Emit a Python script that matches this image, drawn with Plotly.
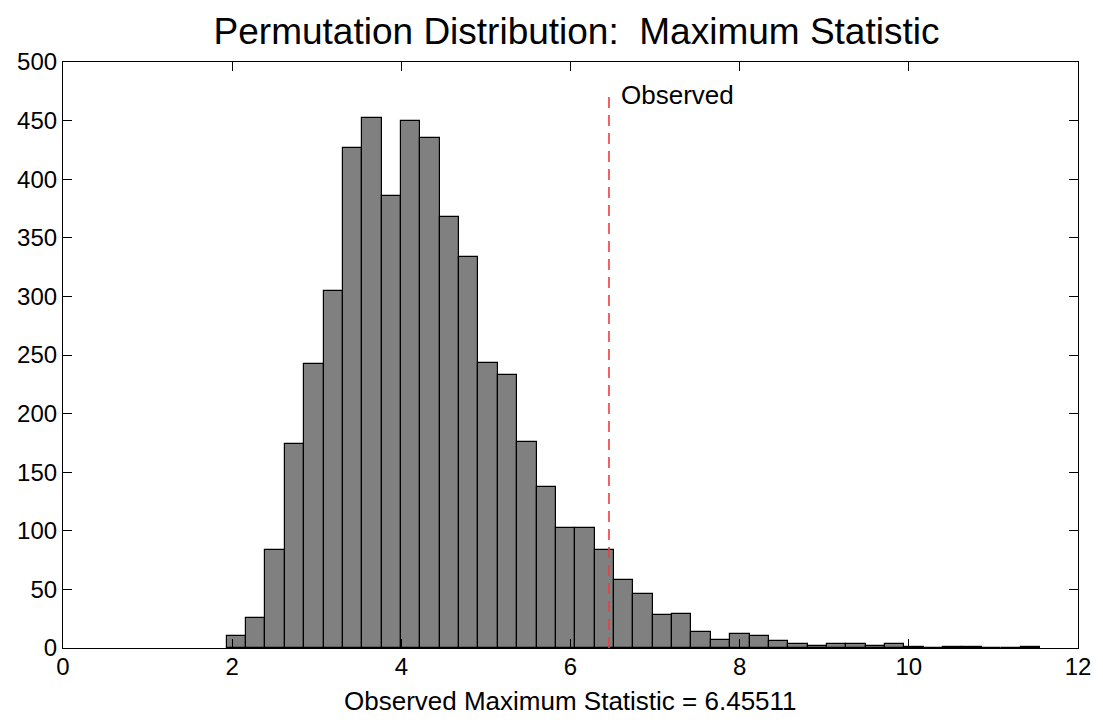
import plotly.graph_objects as go

# Histogram data
bin_start = 1.936
bin_width = 0.2289
counts = [10, 26, 84, 174, 242, 305, 427, 452, 386, 450, 435, 368, 334, 243,
          233, 176, 137, 102, 102, 84, 58, 46, 28, 29, 14, 7, 12, 10, 6, 3,
          2, 3, 3, 2, 3, 1, 0, 1, 1, 0, 0, 1]
observed = 6.45511
observed_line_top = 475

x_ticks = [0, 2, 4, 6, 8, 10, 12]
y_ticks = [0, 50, 100, 150, 200, 250, 300, 350, 400, 450, 500]

FONT = "Liberation Sans, Arial"
centers = [bin_start + bin_width * (i + 0.5) for i in range(len(counts))]

fig = go.Figure()
fig.add_trace(go.Bar(
    x=centers, y=counts, width=bin_width,
    marker=dict(color="#808080", line=dict(color="black", width=1.2)),
    showlegend=False, hoverinfo="x+y",
))
fig.add_trace(go.Scatter(
    x=[observed, observed], y=[0, observed_line_top], mode="lines",
    line=dict(color="#f03c3c", width=1.6, dash="11px,7px"),
    showlegend=False,
))
fig.add_annotation(
    x=observed, y=observed_line_top, text="Observed", showarrow=False,
    xanchor="left", yanchor="middle", xshift=10, yshift=-4,
    font=dict(size=26, color="black", family=FONT),
)
fig.add_annotation(
    x=0.5, xref="paper", y=-0.090, yref="paper",
    text="Observed Maximum Statistic = 6.45511", showarrow=False,
    xanchor="center", yanchor="middle",
    font=dict(size=26, color="black", family=FONT),
)

axis_common = dict(
    showgrid=False, zeroline=False, showline=True, linecolor="black",
    linewidth=1.2, mirror="ticks", ticks="inside", ticklen=9,
    tickcolor="black", tickwidth=1,
    tickfont=dict(size=24, color="black", family=FONT),
)

fig.update_layout(
    width=1103, height=720,
    paper_bgcolor="white", plot_bgcolor="white",
    margin=dict(l=63, r=23, t=62, b=72),
    bargap=0,
    title=dict(
        text="Permutation Distribution:  Maximum Statistic",
        x=0.5227, xanchor="center", y=0.957, yanchor="middle",
        font=dict(size=37, color="black", family=FONT),
    ),
    xaxis=dict(range=[0, 12], tickvals=x_ticks, ticklabelstandoff=-3, **axis_common),
    yaxis=dict(range=[0, 500], tickvals=y_ticks, **axis_common),
    font=dict(family=FONT, color="black"),
)

fig.write_html("out.html")
